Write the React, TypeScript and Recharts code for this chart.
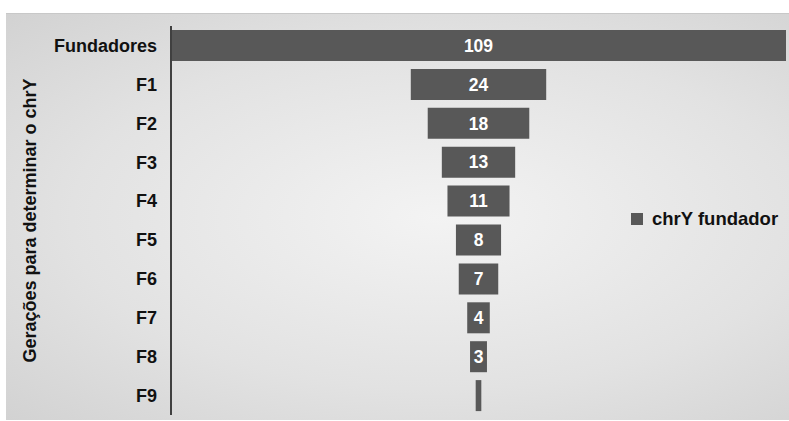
import React from "react";
import { BarChart, Bar, XAxis, YAxis, LabelList } from "recharts";

const generations = ["Fundadores", "F1", "F2", "F3", "F4", "F5", "F6", "F7", "F8", "F9"];
const founderChrY = [109, 24, 18, 13, 11, 8, 7, 4, 3, 1];
const seriesName = "chrY fundador";
const axisTitle = "Gerações para determinar o chrY";

const maxValue = Math.max(...founderChrY);

// invisible spacer + value so each bar sits centred like a funnel
const data = generations.map((g, i) => ({
  gen: g,
  pad: (maxValue - founderChrY[i]) / 2,
  value: founderChrY[i],
}));

const FONT = "'Liberation Sans', Arial, sans-serif";
const BAR = "#585858";

// legend drawn outside the chart so it doesn't eat plot space
const LegendBox = () => (
  <div style={{ position: "absolute", left: 631, top: 208, display: "flex", alignItems: "center", fontFamily: FONT }}>
    <span style={{ width: 12, height: 12, background: BAR, display: "inline-block", marginRight: 9 }} />
    <span style={{ fontSize: 18.5, fontWeight: "bold", color: "#111" }}>{seriesName}</span>
  </div>
);

export default function App() {
  return (
    <div style={{ position: "absolute", left: 0, top: 0, width: 789, height: 421, background: "#fff" }}>
      <div
        style={{
          position: "absolute",
          left: 6,
          top: 13,
          width: 783,
          height: 406,
          background: "radial-gradient(ellipse at 55% 50%, #f3f3f3 0%, #e2e2e2 60%, #d2d2d2 100%)",
          borderTop: "1px solid #c8c8c8",
        }}
      />
      <BarChart
        width={789}
        height={421}
        data={data}
        layout="vertical"
        margin={{ top: 26, right: 3, bottom: 6, left: 0 }}
        barSize={31}
        style={{ position: "absolute", left: 0, top: 0, fontFamily: FONT }}
      >
        <XAxis type="number" domain={[0, maxValue]} hide />
        <YAxis
          type="category"
          dataKey="gen"
          width={171}
          tickLine={false}
          tickSize={0}
          tickMargin={14}
          axisLine={{ stroke: "#404040", strokeWidth: 2 }}
          tick={{ fill: "#111", fontSize: 18, fontWeight: "bold", fontFamily: FONT }}
          label={{
            value: axisTitle,
            angle: -90,
            position: "insideLeft",
            offset: 30,
            style: { fill: "#111", fontSize: 18, fontWeight: "bold", fontFamily: FONT, textAnchor: "middle" },
          }}
        />
        <Bar dataKey="pad" stackId="a" fill="transparent" isAnimationActive={false} legendType="none" />
        <Bar dataKey="value" stackId="a" fill={BAR} name={seriesName} isAnimationActive={false}>
          <LabelList
            dataKey="value"
            position="center"
            formatter={(v: any) => (v >= 2 ? v : "")}
            style={{ fill: "#fff", fontSize: 17.5, fontWeight: "bold", fontFamily: FONT }}
          />
        </Bar>
      </BarChart>
      <LegendBox />
    </div>
  );
}
